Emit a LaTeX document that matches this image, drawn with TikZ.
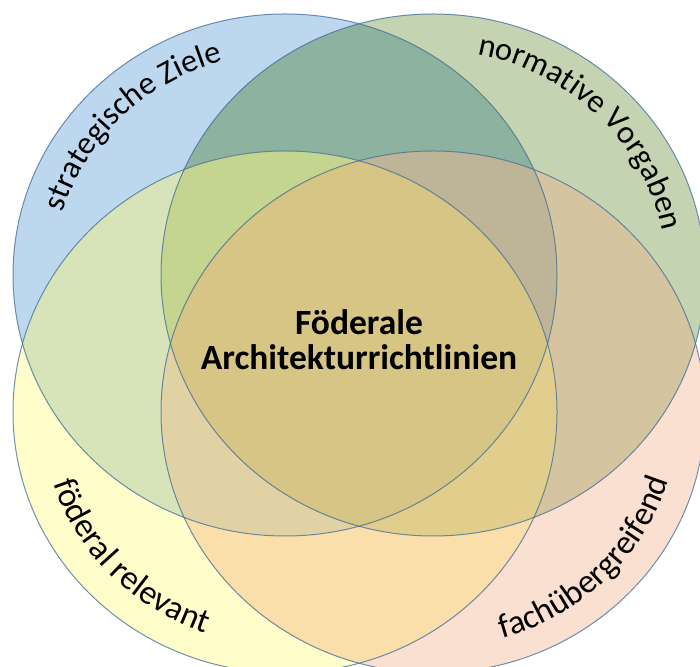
\documentclass[tikz,border=0pt]{standalone}
\usepackage{fontspec}
\setmainfont{Carlito}
\usepackage{tikz}
\usetikzlibrary{decorations.text}

% region colours
\definecolor{fillB}{RGB}{189,215,238}
\definecolor{fillG}{RGB}{196,211,177}
\definecolor{fillY}{RGB}{255,253,202}
\definecolor{fillP}{RGB}{250,224,208}
\definecolor{fillBG}{RGB}{142,178,160}
\definecolor{fillBY}{RGB}{215,228,186}
\definecolor{fillBP}{RGB}{190,180,151}
\definecolor{fillGY}{RGB}{196,213,143}
\definecolor{fillGP}{RGB}{213,196,160}
\definecolor{fillYP}{RGB}{250,223,170}
\definecolor{fillBGY}{RGB}{196,213,143}
\definecolor{fillBGP}{RGB}{190,180,151}
\definecolor{fillBYP}{RGB}{225,210,166}
\definecolor{fillGYP}{RGB}{225,206,141}
\definecolor{fillBGYP}{RGB}{214,197,132}
\definecolor{vennedge}{RGB}{65,108,150}

\newcommand{\rx}{272}
\newcommand{\ry}{261}
\newcommand{\toplabelfont}{\fontsize{32.5}{32}\selectfont}
\newcommand{\bottomlabelfont}{\fontsize{34}{34}\selectfont}

\tikzset{
    venn line/.style={draw=vennedge, draw opacity=0.75, line width=1pt},
    toplabel/.style={decorate, decoration={text along path, text align=center,
        text={|\toplabelfont|#1}}},
    bottomlabel/.style={decorate, decoration={text along path, text align=center,
        text={|\bottomlabelfont|#1}}}
}

\begin{document}
\begin{tikzpicture}[x=1pt, y=1pt]
    \clip (0,0) rectangle (700,666);

    % Define centres
    \coordinate (blue) at (285,391);
    \coordinate (green) at (433,391);
    \coordinate (yellow) at (285,254);
    \coordinate (peach) at (433,254);

    % single sets
    \foreach \c/\f in {blue/fillB, green/fillG, yellow/fillY, peach/fillP} {
        \fill[\f] (\c) ellipse [x radius=\rx, y radius=\ry];
    }

    % pairs
    \begin{scope}
        \clip (blue) ellipse [x radius=\rx, y radius=\ry];
        \fill[fillBG] (green) ellipse [x radius=\rx, y radius=\ry];
        \fill[fillBY] (yellow) ellipse [x radius=\rx, y radius=\ry];
        \fill[fillBP] (peach) ellipse [x radius=\rx, y radius=\ry];
    \end{scope}
    \begin{scope}
        \clip (green) ellipse [x radius=\rx, y radius=\ry];
        \fill[fillGY] (yellow) ellipse [x radius=\rx, y radius=\ry];
        \fill[fillGP] (peach) ellipse [x radius=\rx, y radius=\ry];
    \end{scope}
    \begin{scope}
        \clip (yellow) ellipse [x radius=\rx, y radius=\ry];
        \fill[fillYP] (peach) ellipse [x radius=\rx, y radius=\ry];
    \end{scope}

    % triples
    \begin{scope}
        \clip (blue) ellipse [x radius=\rx, y radius=\ry];
        \clip (green) ellipse [x radius=\rx, y radius=\ry];
        \fill[fillBGY] (yellow) ellipse [x radius=\rx, y radius=\ry];
        \fill[fillBGP] (peach) ellipse [x radius=\rx, y radius=\ry];
    \end{scope}
    \begin{scope}
        \clip (blue) ellipse [x radius=\rx, y radius=\ry];
        \clip (yellow) ellipse [x radius=\rx, y radius=\ry];
        \fill[fillBYP] (peach) ellipse [x radius=\rx, y radius=\ry];
    \end{scope}
    \begin{scope}
        \clip (green) ellipse [x radius=\rx, y radius=\ry];
        \clip (yellow) ellipse [x radius=\rx, y radius=\ry];
        \fill[fillGYP] (peach) ellipse [x radius=\rx, y radius=\ry];
    \end{scope}

    % all four
    \begin{scope}
        \clip (blue) ellipse [x radius=\rx, y radius=\ry];
        \clip (green) ellipse [x radius=\rx, y radius=\ry];
        \clip (yellow) ellipse [x radius=\rx, y radius=\ry];
        \fill[fillBGYP] (peach) ellipse [x radius=\rx, y radius=\ry];
    \end{scope}

    % outlines
    \foreach \c in {blue, green, yellow, peach} {
        \draw[venn line] (\c) ellipse [x radius=\rx, y radius=\ry];
    }

    % labels along the rims
    \path[toplabel={strategische Ziele}] (blue) ++(180:{0.85*\rx} and {0.85*\ry})
        arc [start angle=180, end angle=90, x radius={0.85*\rx}, y radius={0.85*\ry}];
    \path[toplabel={normative Vorgaben}] (green) ++(90:{0.86*\rx} and {0.86*\ry})
        arc [start angle=90, end angle=0, x radius={0.86*\rx}, y radius={0.86*\ry}];
    \path[bottomlabel={föderal relevant}] (yellow) ++(179:{0.895*\rx} and {0.895*\ry})
        arc [start angle=179, end angle=269, x radius={0.895*\rx}, y radius={0.895*\ry}];
    \path[bottomlabel={fachübergreifend}] (peach) ++(-90:{0.905*\rx} and {0.905*\ry})
        arc [start angle=-90, end angle=0, x radius={0.905*\rx}, y radius={0.905*\ry}];

    % centre text
    \node[font=\bfseries\fontsize{35.5}{35}\selectfont, align=center, inner sep=0pt]
        (title) at (359,326) {Föderale\\Architekturrichtlinien};
\end{tikzpicture}
\end{document}
